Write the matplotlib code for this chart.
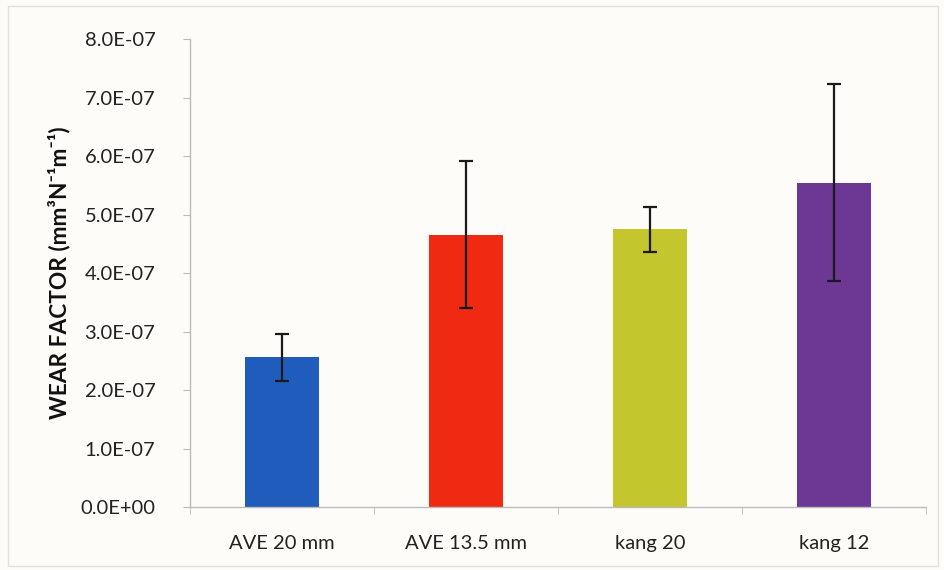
import matplotlib
matplotlib.use("Agg")
import matplotlib.pyplot as plt
from matplotlib.patches import Rectangle
import numpy as np

categories = ["AVE 20 mm", "AVE 13.5 mm", "kang 20", "kang 12"]
wear_factor = [2.56e-7, 4.66e-7, 4.75e-7, 5.55e-7]
wear_error = [0.405e-7, 1.26e-7, 0.38e-7, 1.69e-7]
bar_colors = ["#1f5cbc", "#f02a12", "#c3c62c", "#6d3894"]
ytick_values = [0, 1e-7, 2e-7, 3e-7, 4e-7, 5e-7, 6e-7, 7e-7, 8e-7]
ytick_labels = ["0.0E+00", "1.0E-07", "2.0E-07", "3.0E-07", "4.0E-07",
                "5.0E-07", "6.0E-07", "7.0E-07", "8.0E-07"]

plt.rcParams["font.family"] = ["Lato", "DejaVu Sans"]

W, H = 944, 570
fig = plt.figure(figsize=(W / 100, H / 100), dpi=100)
bg = "#fdfcf8"
fig.patch.set_facecolor(bg)
ax = fig.add_axes([190 / W, (H - 507) / H, (926 - 190) / W, (507 - 39.3) / H])
ax.set_facecolor(bg)

x = np.arange(len(categories))
ax.bar(x, wear_factor, width=0.4, color=bar_colors, zorder=2)
ax.errorbar(x, wear_factor, yerr=wear_error, fmt="none", ecolor="#1a1a1a",
            elinewidth=1.6, capsize=5, capthick=1.6, zorder=3)

ax.set_xlim(-0.5, len(categories) - 0.5)
ax.set_ylim(0, 8e-7)
ax.set_yticks(ytick_values)
ax.set_yticklabels(ytick_labels, fontsize=14.5, color="#222222")
ax.set_xticks(x)
ax.set_xticklabels(categories, fontsize=14.5, color="#222222")
ax.tick_params(axis="x", length=0, pad=20)
ax.set_xticks(np.arange(len(categories) + 1) - 0.5, minor=True)
ax.tick_params(axis="x", which="minor", length=5, color="#bbbbbb", direction="out")
ax.tick_params(axis="y", length=5, color="#bbbbbb", pad=20)

for side in ["top", "right"]:
    ax.spines[side].set_visible(False)
for side in ["left", "bottom"]:
    ax.spines[side].set_color("#bbbbbb")
    ax.spines[side].set_linewidth(1.0)

ax.set_ylabel("WEAR FACTOR (mm³N⁻¹m⁻¹)", fontsize=16.3,
              fontweight="bold", color="#111111", labelpad=7)

fig.patches.append(Rectangle((8 / W, 4 / H), (W - 14) / W, (H - 10) / H,
                             transform=fig.transFigure, fill=False,
                             edgecolor="#e2e0da", linewidth=1.0))

fig.savefig("out.png", dpi=100, facecolor=bg)
